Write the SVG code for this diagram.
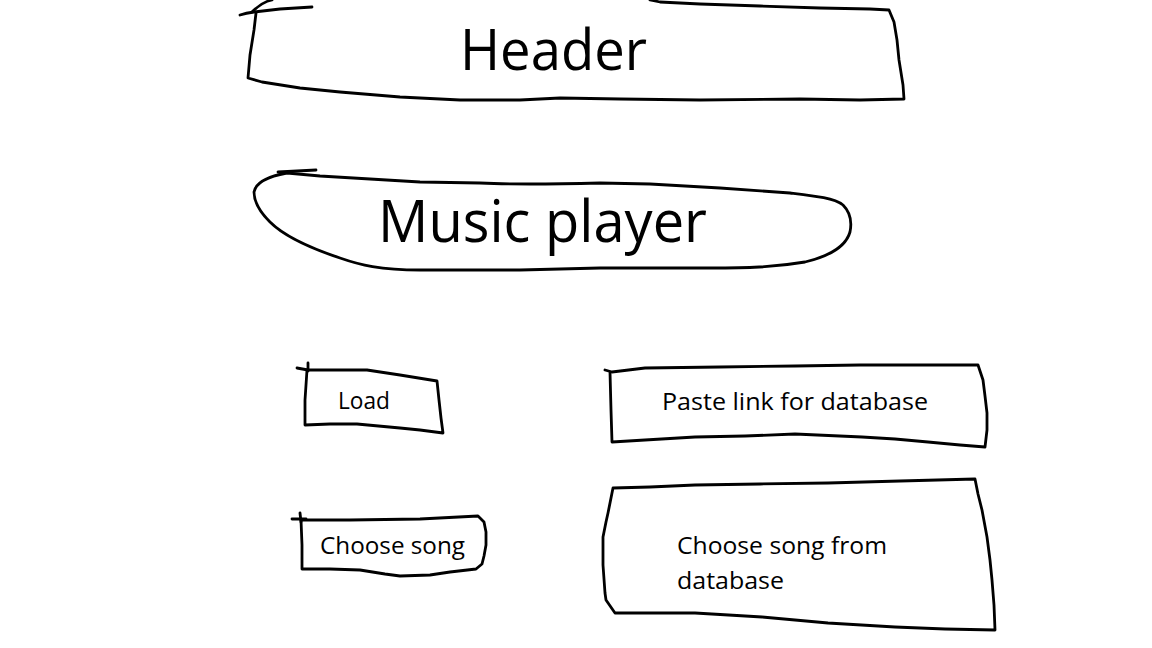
<svg xmlns="http://www.w3.org/2000/svg" width="1152" height="648" viewBox="0 0 1152 648">
<style>
.s{fill:none;stroke:#000;stroke-width:2.8;stroke-linejoin:round;stroke-linecap:round}
.t{font-family:"Open Sans","Noto Sans",sans-serif;fill:#000}
</style>
<rect width="1152" height="648" fill="#fff"/>
<g id="header">
<path class="s" d="M240,15 Q246,13 254,12 L280,9 L312,7"/>
<path class="s" d="M252,12 Q262,2 272,0"/>
<path class="s" d="M256,13 L254,30 L250,55 L248,78 L262,82 L300,88 L340,92 L400,97 L460,100 L520,100 L560,98 L620,99 L700,100 L800,99 L860,100 L904,99 L903,85 L899,60 L897,40 L894,22 L889,10 L870,9 L820,8 L760,6 L700,4 L660,2 L650,0"/>
<text class="t" x="460" y="70" font-size="56" textLength="187" lengthAdjust="spacingAndGlyphs">Header</text>
</g>
<g id="music-player">
<path class="s" d="M278,172 L316,170"/>
<path class="s" d="M287,173 C270,176 256,182 254,192 C254,202 260,212 270,222 C284,236 310,248 340,258 C360,265 380,270 420,270 L520,270 L600,268 L700,268 C740,268 770,268 805,262 C830,256 846,246 850,232 C852,222 850,212 843,205 C834,198 815,196 790,193 L720,188 L650,184 L600,183 C560,184 520,185 480,183 L420,182 L370,179 L320,176 Z"/>
<text class="t" x="378" y="242" font-size="58" textLength="329" lengthAdjust="spacingAndGlyphs">Music player</text>
</g>
<g id="load">
<path class="s" d="M297,368 L308,370"/>
<path class="s" d="M308,363 L308,371"/>
<path class="s" d="M307,370 L340,370 L367,370 L400,375 L437,381 L439,400 L441,418 L443,433 L420,430 L400,428 L357,424 L330,424 L305,425 L305,400 Z"/>
<text class="t" x="338" y="409" font-size="23" textLength="52" lengthAdjust="spacingAndGlyphs">Load</text>
</g>
<g id="paste-link">
<path class="s" d="M605,370 L612,372 L645,368 L720,367 L795,366 L860,365 L928,365 L978,365 L983,380 L985,396 L987,413 L987,430 L985,447 L960,445 L928,442 L895,439 L862,437 L795,434 L745,436 L695,437 L645,440 L612,442 L611,410 L610,372"/>
<text class="t" x="662" y="410" font-size="23" textLength="266" lengthAdjust="spacingAndGlyphs">Paste link for database</text>
</g>
<g id="choose-song">
<path class="s" d="M292,519 L306,519"/>
<path class="s" d="M300,513 L301,522"/>
<path class="s" d="M301,520 L350,520 L420,519 L478,516 L484,522 L486,532 L486,545 L484,556 L482,564 L476,569 L450,572 L430,575 L400,576 L385,574 L360,570 L330,569 L302,569 L302,545 Z"/>
<text class="t" x="320" y="554" font-size="23" textLength="145" lengthAdjust="spacingAndGlyphs">Choose song</text>
</g>
<g id="choose-song-db">
<path class="s" d="M613,488 L650,487 L695,485 L760,484 L828,483 L900,481 L975,479 L978,494 L982,510 L987,537 L990,560 L992,580 L994,605 L995,630 L945,629 L895,627 L828,623 L762,617 L695,613 L650,613 L615,613 L606,600 L605,593 L603,565 L603,537 L606,522 L608,513 Z"/>
<text class="t" x="677" y="554" font-size="23" textLength="210" lengthAdjust="spacingAndGlyphs">Choose song from</text>
<text class="t" x="677" y="589" font-size="23" textLength="107" lengthAdjust="spacingAndGlyphs">database</text>
</g>
</svg>
